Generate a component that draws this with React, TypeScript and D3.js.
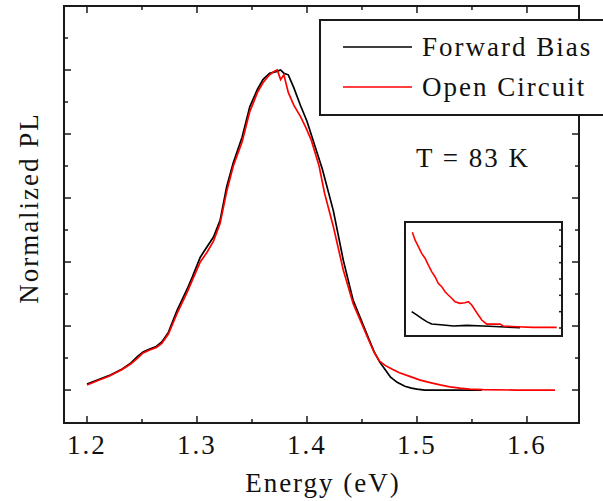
import React from "react";
import * as d3 from "d3";

// ---- data ----
const forwardBias: [number, number][] = [
  [1.2, 0.019], [1.21, 0.032], [1.22, 0.045], [1.232, 0.066], [1.24, 0.085], [1.246, 0.105],
  [1.251, 0.119], [1.257, 0.128], [1.263, 0.136], [1.268, 0.15], [1.274, 0.18], [1.282, 0.25],
  [1.291, 0.315], [1.296, 0.355], [1.303, 0.415], [1.309, 0.447], [1.315, 0.478], [1.321, 0.53],
  [1.327, 0.635], [1.333, 0.71], [1.341, 0.79], [1.348, 0.885], [1.355, 0.94], [1.36, 0.97],
  [1.366, 0.99], [1.372, 0.995], [1.376, 1.0], [1.379, 0.99], [1.383, 0.985], [1.388, 0.945],
  [1.394, 0.89], [1.4, 0.84], [1.407, 0.765], [1.414, 0.69], [1.424, 0.56], [1.433, 0.406],
  [1.442, 0.28], [1.455, 0.17], [1.461, 0.12], [1.466, 0.088], [1.471, 0.064], [1.476, 0.04],
  [1.482, 0.024], [1.489, 0.012], [1.495, 0.006], [1.5, 0.003], [1.507, 0.0], [1.53, 0.0],
  [1.559, 0.0],
];

const openCircuit: [number, number][] = [
  [1.2, 0.016], [1.21, 0.03], [1.22, 0.043], [1.232, 0.064], [1.24, 0.082], [1.246, 0.1],
  [1.251, 0.116], [1.257, 0.125], [1.263, 0.133], [1.268, 0.146], [1.274, 0.175], [1.282, 0.24],
  [1.291, 0.305], [1.296, 0.345], [1.303, 0.4], [1.309, 0.43], [1.315, 0.465], [1.321, 0.52],
  [1.327, 0.62], [1.333, 0.7], [1.341, 0.775], [1.348, 0.87], [1.355, 0.93], [1.36, 0.96],
  [1.366, 0.985], [1.37, 0.995], [1.373, 1.0], [1.376, 0.97], [1.379, 0.985], [1.383, 0.93],
  [1.388, 0.89], [1.394, 0.855], [1.399, 0.82], [1.404, 0.78], [1.411, 0.7], [1.416, 0.615],
  [1.424, 0.51], [1.433, 0.375], [1.442, 0.27], [1.455, 0.165], [1.461, 0.118], [1.466, 0.09],
  [1.471, 0.077], [1.478, 0.064], [1.484, 0.054], [1.494, 0.042], [1.503, 0.031], [1.512, 0.023],
  [1.521, 0.016], [1.53, 0.01], [1.539, 0.006], [1.548, 0.003], [1.56, 0.001], [1.59, 0.0],
  [1.6255, 0.0],
];

// inset (magnified tail, arbitrary units)
const insetOpenCircuit: [number, number][] = [
  [1.4875, 5.86], [1.4902, 5.39], [1.4936, 4.98], [1.497, 4.57], [1.5004, 4.27], [1.5037, 3.86],
  [1.5072, 3.45], [1.5106, 3.14], [1.5139, 2.74], [1.5174, 2.53], [1.5208, 2.22], [1.5241, 2.02],
  [1.5276, 1.82], [1.531, 1.61], [1.5361, 1.51], [1.5411, 1.55], [1.5445, 1.61], [1.548, 1.41],
  [1.5513, 1.1], [1.5547, 0.8], [1.5582, 0.49], [1.5633, 0.24], [1.5768, 0.24], [1.5802, 0.12],
  [1.5938, 0.08], [1.6108, 0.04], [1.6346, 0.04],
];
const insetForwardBias: [number, number][] = [
  [1.4868, 1.0], [1.4919, 0.8], [1.497, 0.59], [1.5021, 0.39], [1.5072, 0.24], [1.5191, 0.18],
  [1.5293, 0.12], [1.5429, 0.16], [1.5598, 0.12], [1.5768, 0.08], [1.5972, 0.02],
];

const xMajorTicks = [1.2, 1.3, 1.4, 1.5, 1.6];
const xTickLabels = ["1.2", "1.3", "1.4", "1.5", "1.6"];
const xMinorTicks = [1.25, 1.35, 1.45, 1.55];
const yMajorTicks = [0, 0.2, 0.4, 0.6, 0.8, 1.0];
const yMinorTicks = [0.1, 0.3, 0.5, 0.7, 0.9, 1.1];
const insetYTicks = [0, 1, 2, 3, 4, 5, 6];

const seriesNames = ["Forward Bias", "Open Circuit"];
const seriesColors = ["#000000", "#ff0000"];
const xLabel = "Energy (eV)";
const yLabel = "Normalized PL";
const annotation = "T = 83 K";

const FONT = "'Liberation Serif', 'Times New Roman', serif";

export default function App() {
  const W = 603, H = 501;
  const L = 64, R = 579, T = 6, B = 423;
  const x = d3.scaleLinear().domain([1.1791, 1.6473]).range([L, R]);
  const y = d3.scaleLinear().domain([-0.103, 1.2]).range([B, T]);
  const line = d3.line<[number, number]>().x(d => x(d[0])).y(d => y(d[1]));

  const iL = 405, iR = 562, iT = 222, iB = 336;
  const ix = d3.scaleLinear().domain([1.48, 1.64]).range([iL, iR]);
  const iy = d3.scaleLinear().domain([0, 6]).range([328, 230]);
  const iline = d3.line<[number, number]>().x(d => ix(d[0])).y(d => iy(d[1]));

  const axisColor = "#1a1a1a";
  const textStyle: React.CSSProperties = { fontFamily: FONT, fontSize: 27, letterSpacing: "2px" };

  return (
    <svg width={W} height={H} style={{ position: "absolute", left: 0, top: 0, background: "#fff" }}>
      <rect x={0} y={0} width={W} height={H} fill="#fff" />
      {/* curves */}
      <path d={line(forwardBias) || ""} fill="none" stroke={seriesColors[0]} strokeWidth={1.7} />
      <path d={line(openCircuit) || ""} fill="none" stroke={seriesColors[1]} strokeWidth={1.7} />

      {/* frame */}
      <rect x={L} y={T} width={R - L} height={B - T} fill="none" stroke={axisColor} strokeWidth={2} />
      {/* x ticks */}
      {xMajorTicks.map((t, i) => (
        <g key={"xm" + i}>
          <line x1={x(t)} x2={x(t)} y1={B} y2={B - 7} stroke={axisColor} strokeWidth={1.5} />
          <line x1={x(t)} x2={x(t)} y1={T} y2={T + 7} stroke={axisColor} strokeWidth={1.5} />
          <text x={x(t)} y={454} textAnchor="middle" style={textStyle} fill="#111">{xTickLabels[i]}</text>
        </g>
      ))}
      {xMinorTicks.map((t, i) => (
        <g key={"xn" + i}>
          <line x1={x(t)} x2={x(t)} y1={B} y2={B - 4} stroke={axisColor} strokeWidth={1.5} />
          <line x1={x(t)} x2={x(t)} y1={T} y2={T + 4} stroke={axisColor} strokeWidth={1.5} />
        </g>
      ))}
      {yMajorTicks.map((t, i) => (
        <g key={"ym" + i}>
          <line x1={L} x2={L + 7} y1={y(t)} y2={y(t)} stroke={axisColor} strokeWidth={1.5} />
          <line x1={R} x2={R - 7} y1={y(t)} y2={y(t)} stroke={axisColor} strokeWidth={1.5} />
        </g>
      ))}
      {yMinorTicks.map((t, i) => (
        <g key={"yn" + i}>
          <line x1={L} x2={L + 4} y1={y(t)} y2={y(t)} stroke={axisColor} strokeWidth={1.5} />
          <line x1={R} x2={R - 4} y1={y(t)} y2={y(t)} stroke={axisColor} strokeWidth={1.5} />
        </g>
      ))}

      {/* axis titles */}
      <text x={323} y={492} textAnchor="middle" style={textStyle} fill="#111">{xLabel}</text>
      <text transform="translate(38,208) rotate(-90)" textAnchor="middle" style={textStyle} fill="#111">{yLabel}</text>

      {/* legend */}
      <rect x={320} y={20} width={300} height={95} fill="#fff" stroke={axisColor} strokeWidth={2} />
      <line x1={343} x2={412} y1={47} y2={47} stroke={seriesColors[0]} strokeWidth={1.5} />
      <text x={422} y={56} style={textStyle} fill="#111">{seriesNames[0]}</text>
      <line x1={343} x2={412} y1={87} y2={87} stroke={seriesColors[1]} strokeWidth={1.5} />
      <text x={422} y={96} style={textStyle} fill="#111">{seriesNames[1]}</text>

      <text x={416} y={167} style={textStyle} fill="#111">{annotation}</text>

      {/* inset */}
      <rect x={iL} y={iT} width={iR - iL} height={iB - iT} fill="#fff" stroke={axisColor} strokeWidth={2} />
      {insetYTicks.map((t, i) => (
        <line key={"it" + i} x1={iR} x2={iR - 3} y1={iy(t)} y2={iy(t)} stroke={axisColor} strokeWidth={1.5} />
      ))}
      <path d={iline(insetForwardBias) || ""} fill="none" stroke={seriesColors[0]} strokeWidth={1.6} />
      <path d={iline(insetOpenCircuit) || ""} fill="none" stroke={seriesColors[1]} strokeWidth={1.6} />
    </svg>
  );
}
